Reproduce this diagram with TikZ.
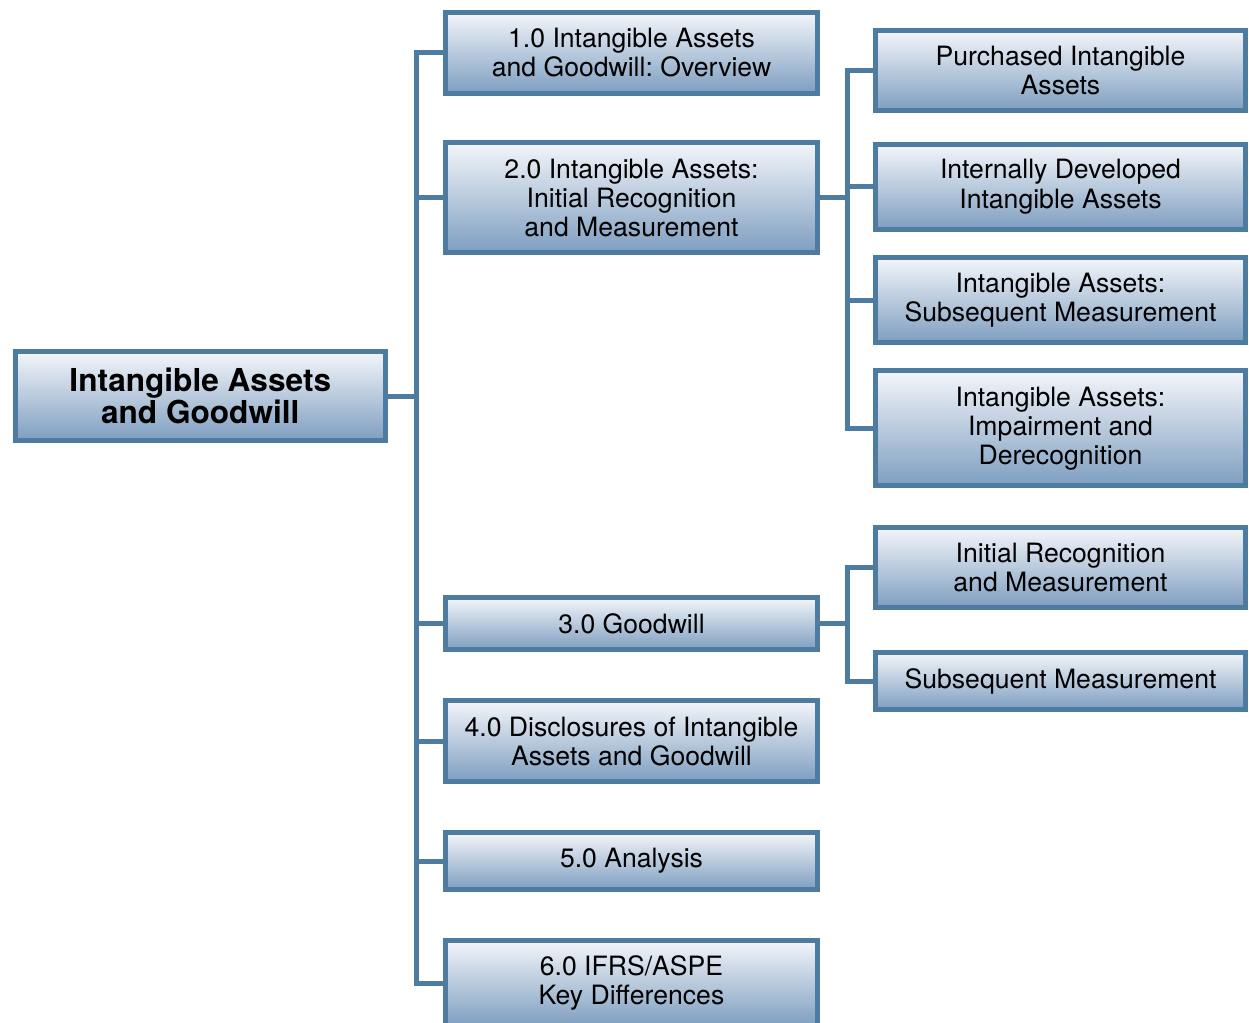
\documentclass[tikz,border=0pt]{standalone}
\usepackage{fontspec}
\setmainfont{TeX Gyre Heros}
\usetikzlibrary{positioning, calc}

\definecolor{boxline}{RGB}{78,123,160}
\definecolor{boxtop}{RGB}{244,246,250}
\definecolor{boxbot}{RGB}{126,158,192}

\begin{document}
\begin{tikzpicture}[
  x=0.5pt, y=-0.5pt,
  topic/.style={draw=boxline, line width=2.5pt, top color=boxtop, bottom color=boxbot,
    align=center, inner sep=0pt, font=\fontsize{13.3}{14.5}\selectfont},
  level1/.style={topic, minimum width=186pt},
  level2/.style={topic, minimum width=185pt},
  root/.style={topic, minimum width=185pt, font=\fontsize{15.8}{16}\selectfont\bfseries},
  conn/.style={draw=boxline, line width=2.5pt},
]
\useasboundingbox (0,0) rectangle (1249,1023);
\clip (0,0) rectangle (1249,1023);

% main topic
\node[root, minimum height=44.5pt] (main) at (200.3,396) {Intangible Assets\\and Goodwill};

% chapter sections
\node[level1, minimum height=40.5pt] (s1) at (631.5,52.5) {1.0 Intangible Assets\\and Goodwill:\ Overview};
\node[level1, minimum height=55pt] (s2) at (631.5,197.5) {2.0 Intangible Assets:\\Initial Recognition\\and Measurement};
\node[level1, minimum height=26pt] (s3) at (631.5,623.5) {3.0 Goodwill};
\node[level1, minimum height=40.5pt] (s4) at (631.5,741) {4.0 Disclosures of Intangible\\Assets and Goodwill};
\node[level1, minimum height=28.5pt] (s5) at (631.5,861) {5.0 Analysis};
\node[level1, minimum height=43pt] (s6) at (631.5,983) {6.0 IFRS/ASPE\\Key Differences};

% sub topics of 2.0
\node[level2, minimum height=40pt] (a1) at (1060.5,70.5) {Purchased Intangible\\Assets};
\node[level2, minimum height=42.5pt] (a2) at (1060.5,186.7) {Internally Developed\\Intangible Assets};
\node[level2, minimum height=42.5pt] (a3) at (1060.5,300) {Intangible Assets:\\Subsequent Measurement};
\node[level2, minimum height=57.5pt] (a4) at (1060.5,428.3) {Intangible Assets:\\Impairment and\\Derecognition};

% sub topics of 3.0
\node[level2, minimum height=40pt] (b1) at (1060.5,567.5) {Initial Recognition\\and Measurement};
\node[level2, minimum height=28.5pt] (b2) at (1060.5,681) {Subsequent Measurement};

% trunks
\coordinate (t1) at (416,396);
\coordinate (t2) at (847,396);

\draw[conn] (main.east) -- (main.east -| t1);
\draw[conn] (s1.west) -- (s1.west -| t1) -- (s6.west -| t1) -- (s6.west);
\foreach \n in {s2,s3,s4,s5} {
  \draw[conn] (\n.west -| t1) -- (\n.west);
}

\draw[conn] (s2.east) -- (s2.east -| t2);
\draw[conn] (a1.west) -- (a1.west -| t2) -- (a4.west -| t2) -- (a4.west);
\foreach \n in {a2,a3} {
  \draw[conn] (\n.west -| t2) -- (\n.west);
}

\draw[conn] (s3.east) -- (s3.east -| t2);
\draw[conn] (b1.west) -- (b1.west -| t2) -- (b2.west -| t2) -- (b2.west);
\end{tikzpicture}
\end{document}
